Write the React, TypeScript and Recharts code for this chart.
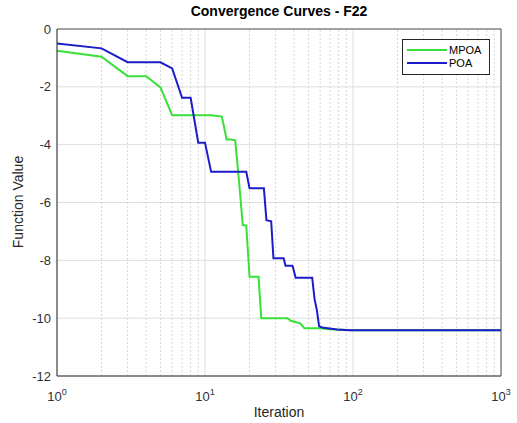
import React from 'react';
import { LineChart, Line, XAxis, YAxis, CartesianGrid, ReferenceLine } from 'recharts';

// iteration / best value pairs
const MPOA_ITER = [1, 2, 3, 4, 5, 6, 11, 13, 14, 15, 16, 17, 18, 19, 20, 23, 24, 36, 38, 44, 47, 60, 70, 100, 1000];
const MPOA_VAL = [-0.75, -0.96, -1.63, -1.63, -2.02, -2.98, -2.98, -3.03, -3.82, -3.82, -3.85, -5.3, -6.78, -6.8, -8.57, -8.57, -10.0, -10.0, -10.09, -10.18, -10.35, -10.35, -10.38, -10.42, -10.42];

const POA_ITER = [1, 2, 3, 5, 6, 7, 8, 9, 10, 11, 19, 20, 25, 26, 28, 29, 34, 35, 39, 41, 53, 55, 57, 59, 62, 78, 95, 1000];
const POA_VAL = [-0.5, -0.67, -1.15, -1.15, -1.36, -2.38, -2.38, -3.93, -3.93, -4.94, -4.94, -5.51, -5.51, -6.61, -6.65, -7.93, -7.93, -8.19, -8.19, -8.6, -8.6, -9.34, -9.72, -10.28, -10.32, -10.39, -10.42, -10.42];

const X_TICKS = [1, 10, 100, 1000];
const MINOR_TICKS = [2, 3, 4, 5, 6, 7, 8, 9, 20, 30, 40, 50, 60, 70, 80, 90, 200, 300, 400, 500, 600, 700, 800, 900];
const Y_TICKS = [-12, -10, -8, -6, -4, -2, 0];

const SERIES = [
  { name: 'MPOA', color: '#38e038', iter: MPOA_ITER, val: MPOA_VAL },
  { name: 'POA', color: '#1c1cc8', iter: POA_ITER, val: POA_VAL },
];

const FONT = '"Liberation Sans", Arial, Helvetica, sans-serif';

function LogTick(props: any) {
  const { x, y, payload } = props;
  const exp = Math.round(Math.log10(payload.value));
  return (
    <text x={x} y={y + 17} textAnchor="middle" fill="#303030" fontSize={13} fontFamily={FONT}>
      <tspan>10</tspan>
      <tspan dy={-6} fontSize={9}>{exp}</tspan>
    </text>
  );
}

export default function App() {
  return (
    <div
      style={{
        position: 'fixed',
        left: 0,
        top: 0,
        width: 517,
        height: 423,
        background: '#fff',
        fontFamily: FONT,
        color: '#262626',
      }}
    >
      <LineChart width={517} height={423} margin={{ top: 29, right: 16, bottom: 17, left: 17 }}>
        <CartesianGrid stroke="#dedede" />
        {MINOR_TICKS.map((v) => (
          <ReferenceLine key={v} x={v} stroke="#d6d6d6" strokeDasharray="2 2" />
        ))}
        <ReferenceLine y={0} stroke="#555" />
        <ReferenceLine x={1000} stroke="#555" />
        <XAxis
          dataKey="x"
          type="number"
          scale="log"
          domain={[1, 1000]}
          ticks={X_TICKS}
          allowDataOverflow
          height={30}
          tickLine={false}
          axisLine={{ stroke: '#262626' }}
          tick={<LogTick />}
        />
        <YAxis
          type="number"
          domain={[-12, 0]}
          ticks={Y_TICKS}
          width={40}
          tickSize={4}
          tickMargin={2}
          tickLine={false}
          axisLine={{ stroke: '#262626' }}
          tick={{ fill: '#303030', fontSize: 13, fontFamily: FONT }}
        />
        {SERIES.map((s) => (
          <Line
            key={s.name}
            data={s.iter.map((it, i) => ({ x: it, y: s.val[i] }))}
            dataKey="y"
            type="linear"
            stroke={s.color}
            strokeWidth={2}
            dot={false}
            isAnimationActive={false}
          />
        ))}
      </LineChart>

      <div
        style={{
          position: 'absolute',
          left: 279,
          top: 3,
          transform: 'translateX(-50%)',
          fontWeight: 'bold',
          fontSize: 14,
          whiteSpace: 'nowrap',
          color: '#000',
        }}
      >
        Convergence Curves - F22
      </div>

      <div
        style={{
          position: 'absolute',
          left: 18,
          top: 202,
          transform: 'translate(-50%, -50%) rotate(-90deg)',
          fontSize: 14,
          whiteSpace: 'nowrap',
        }}
      >
        Function Value
      </div>

      <div
        style={{
          position: 'absolute',
          left: 279,
          top: 412,
          transform: 'translate(-50%, -50%)',
          fontSize: 14,
          whiteSpace: 'nowrap',
        }}
      >
        Iteration
      </div>

      <div
        style={{
          position: 'absolute',
          left: 402,
          top: 39,
          width: 88,
          height: 36,
          boxSizing: 'border-box',
          border: '1px solid #262626',
          background: '#fff',
          paddingTop: 3,
        }}
      >
        {SERIES.map((s) => (
          <div key={s.name} style={{ display: 'flex', alignItems: 'center', height: 13 }}>
            <div style={{ marginLeft: 4, width: 40, height: 2, background: s.color }} />
            <span style={{ marginLeft: 2, fontSize: 11, color: '#000' }}>{s.name}</span>
          </div>
        ))}
      </div>
    </div>
  );
}
